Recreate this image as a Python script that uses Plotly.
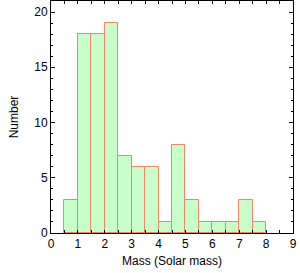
import plotly.graph_objects as go

bin_left = [0.5, 1.0, 1.5, 2.0, 2.5, 3.0, 3.5, 4.0, 4.5, 5.0, 5.5, 6.0, 6.5, 7.0, 7.5]
counts = [3, 18, 18, 19, 7, 6, 6, 1, 8, 3, 1, 1, 1, 3, 1]
bin_width = 0.5
centers = [b + bin_width / 2 for b in bin_left]

font = dict(family="Liberation Sans, Arial, Helvetica, sans-serif", size=12, color="black")

fig = go.Figure(go.Bar(
    x=centers, y=counts, width=bin_width,
    marker=dict(color="#c8ffc8", line=dict(color="#ee8866", width=1)),
))

fig.update_layout(
    width=300, height=273,
    margin=dict(l=51, r=7, t=1, b=40, autoexpand=False),
    plot_bgcolor="white", paper_bgcolor="white",
    font=font, showlegend=False, bargap=0,
)
fig.update_xaxes(
    range=[0, 9], dtick=1, tick0=0, ticks="inside", ticklen=3, tickcolor="black",
    showline=True, linecolor="black", linewidth=1, mirror="ticks",
    showgrid=False, zeroline=False, automargin=False,
    minor=dict(dtick=0.5, tick0=0, ticks="inside", ticklen=3, tickcolor="black", showgrid=False),
    title=dict(text="Mass (Solar mass)", font=font, standoff=6),
    tickfont=font,
)
fig.update_yaxes(
    range=[0, 21], dtick=5, tick0=0, ticks="inside", ticklen=4, tickcolor="black",
    showline=True, linecolor="black", linewidth=1, mirror="ticks",
    showgrid=False, zeroline=False, automargin=False,
    minor=dict(dtick=1, tick0=0, ticks="inside", ticklen=2, tickcolor="black", showgrid=False),
    title=dict(text="Number", font=font, standoff=13),
    tickfont=font,
)

fig.write_html("out.html", config={"displayModeBar": False},
               post_script="document.body.style.margin='0';")
